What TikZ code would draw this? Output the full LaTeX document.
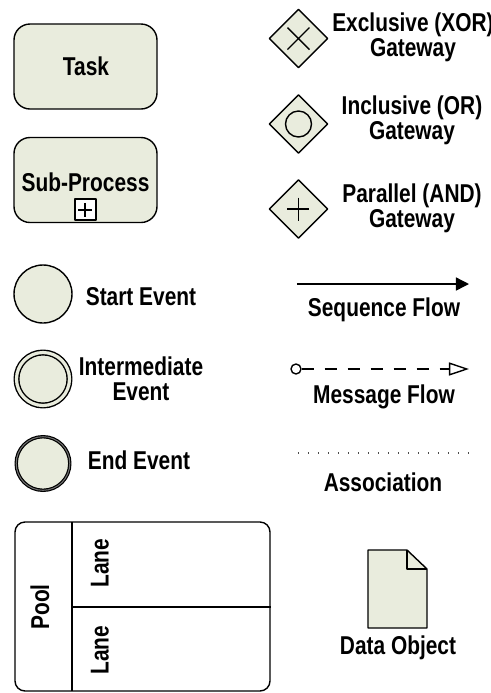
\documentclass[tikz,border=0pt]{standalone}
\usepackage{fontspec}
\setmainfont{Liberation Sans}[FakeStretch=0.81]
\usetikzlibrary{shapes.geometric,arrows.meta,positioning}
\definecolor{bpmnfill}{RGB}{233,236,221}

\tikzset{
  activity/.style={draw,fill=bpmnfill,rounded corners=8pt,minimum width=71.5pt,minimum height=42.5pt,inner sep=0pt},
  event/.style={draw,circle,fill=bpmnfill,minimum size=29pt,inner sep=0pt},
  gateway/.style={draw,diamond,aspect=1,fill=bpmnfill,minimum width=29.5pt,minimum height=29.5pt,inner sep=0pt},
  caption/.style={font=\bfseries\fontsize{12.9}{12.5}\selectfont,align=center,inner sep=0pt},
  expander/.style={draw,line width=0.9pt,fill=white,minimum size=10.5pt,inner sep=0pt},
}

\begin{document}
\begin{tikzpicture}[x=0.5pt,y=-0.5pt,line width=0.7pt,line join=round]
  \useasboundingbox (0,0) rectangle (491,693);

  % activities
  \node[activity] (task) at (85.5,66.5) {};
  \node[caption] (tasklbl) at (86,66) {Task};
  \node[activity] (subproc) at (85.5,180) {};
  \node[caption] (subproclbl) at (85.5,182) {Sub-Process};
  \node[expander,anchor=south] (plus) at ([yshift=1pt]subproc.south) {};
  \draw[line width=1pt] (plus.center) +(-7,0) -- +(7,0)
        (plus.center) +(0,-7) -- +(0,7);

  % events
  \node[event] (start) at (43,294) {};
  \node[caption] (startlbl) at (141,297) {Start Event};
  \node[event,minimum size=26.5pt,double=bpmnfill,double distance=1.6pt] (inter) at (43,379) {};
  \node[caption] (interlbl) at (141,379) {Intermediate\\Event};
  \node[event,minimum size=26.8pt,line width=0.6pt,double=black!55,double distance=0.5pt] (end) at (43,463.5) {};
  \node[caption] (endlbl) at (139,460) {End Event};

  % gateways
  \node[gateway] (xor) at (298.5,38.5) {};
  \draw (xor.center) +(-11,-11) -- +(11,11)
        (xor.center) +(-11,11) -- +(11,-11);
  \node[caption] (xorlbl) at (413,37) {Exclusive (XOR)\\Gateway};
  \node[gateway] (or) at (298.5,124) {};
  \draw (or.center) circle[radius=6.5pt];
  \node[caption] (orlbl) at (412,120) {Inclusive (OR)\\Gateway};
  \node[gateway] (and) at (298.5,209) {};
  \draw (and.center) +(-11,0) -- +(11,0)
        (and.center) +(0,-11.5) -- +(0,11.5);
  \node[caption] (andlbl) at (412,208) {Parallel (AND)\\Gateway};

  % flows
  \coordinate (seqA) at (297,284);
  \coordinate (seqB) at (469,284);
  \draw[-{Triangle[length=6.5pt,width=6.5pt]}] (seqA) -- (seqB);
  \node[caption] (seqlbl) at (384,310) {Sequence Flow};

  \node[draw,circle,fill=white,minimum size=5pt,inner sep=0pt] (msgA) at (296,369) {};
  \coordinate (msgB) at (469,369);
  \draw[dash pattern=on 6pt off 5.5pt,-{Triangle[open,length=10pt,width=6.5pt]}] (msgA) -- (msgB);
  \node[caption] (msglbl) at (384,397) {Message Flow};

  \coordinate (assocA) at (298,453);
  \coordinate (assocB) at (472,453);
  \draw[line width=0.7pt,black!70,dash pattern=on 0.7pt off 4.3pt] (assocA) -- (assocB);
  \node[caption] (assoclbl) at (383,482) {Association};

  % pool and lanes
  \node[draw,rounded corners=5pt,minimum width=127.5pt,minimum height=84.5pt,inner sep=0pt] (pool) at (142.5,606.5) {};
  \coordinate (laneT) at (72,522);
  \coordinate (laneB) at (72,691);
  \coordinate (laneM) at (72,607);
  \draw (laneT) -- (laneB);
  \draw (laneM) -- (laneM -| pool.east);
  \node[caption,rotate=90] (poollbl) at (40,607) {Pool};
  \node[caption,rotate=90] (lane1) at (100,563) {Lane};
  \node[caption,rotate=90] (lane2) at (100,650) {Lane};

  % data object
  \draw[fill=bpmnfill] (368,550) -- (407,550) -- (427,569) -- (427,628) -- (368,628) -- cycle;
  \draw (407,550) -- (407,569) -- (427,569);
  \node[caption] (datalbl) at (398,648) {Data Object};
\end{tikzpicture}
\end{document}
